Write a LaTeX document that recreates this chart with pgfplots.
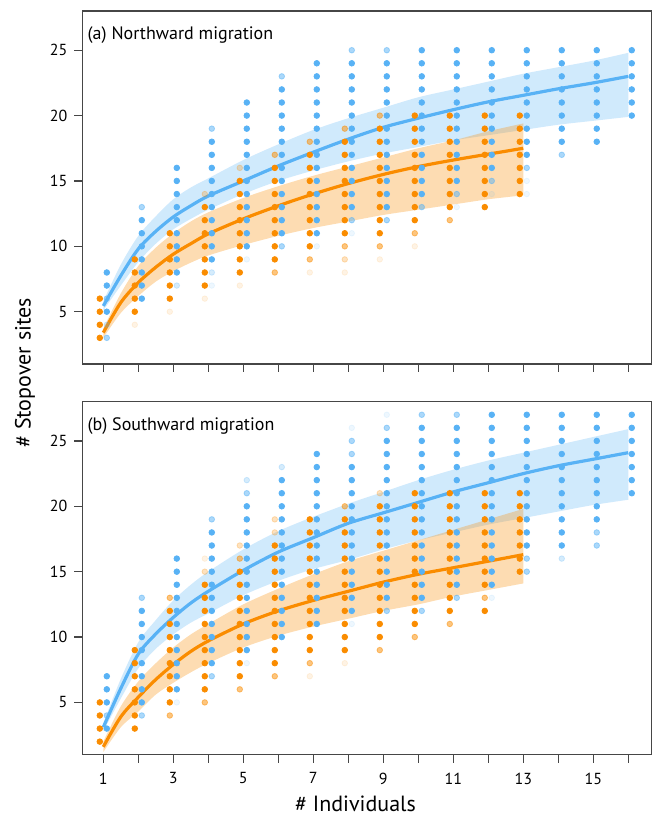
\documentclass[border=0pt]{standalone}
\usepackage{fontspec}
\setmainfont{PT Sans}
\usepackage{pgfplots}
\pgfplotsset{compat=1.18}
\usepgfplotslibrary{fillbetween}
\definecolor{cblue}{RGB}{88,178,245}
\definecolor{corange}{RGB}{250,140,0}
\definecolor{frame}{RGB}{70,70,70}
\pgfplotsset{
  panel/.style={
    scale only axis, width=284.7pt, height=176.5pt,
    xmin=0.4, xmax=16.67, ymin=1, ymax=28,
    xtick={1,...,16}, ytick={5,10,15,20,25},
    tick align=outside, tick pos=left, major tick length=4pt,
    axis line style={draw=frame, line width=0.7pt},
    every tick/.style={draw=frame, line width=0.6pt},
    tick label style={font=\fontsize{8}{9}\selectfont},
    xticklabel style={yshift=-1.5pt},
    /pgf/number format/assume math mode=true,
  },
  dotsb/.style={only marks, scatter, point meta=explicit symbolic, mark size=1.4pt,
    scatter/classes={
      a={mark=*, cblue},
      b={mark=*, cblue, opacity=0.5},
      c={mark=*, cblue, opacity=0.25},
      d={mark=*, cblue, opacity=0.1}}},
  dotso/.style={only marks, scatter, point meta=explicit symbolic, mark size=1.4pt,
    scatter/classes={
      a={mark=*, corange},
      b={mark=*, corange, opacity=0.5},
      c={mark=*, corange, opacity=0.25},
      d={mark=*, corange, opacity=0.1}}},
}
\begin{document}
\begin{tikzpicture}
% ---------------- Panel (a)
\begin{axis}[panel, at={(0pt,0pt)}, anchor=north west, xticklabels={}]
\addplot[dotso] table[x expr=\thisrow{x}-0.1, y=y, meta=c, row sep=\\] {
x y c\\
1 6 a\\1 5 a\\1 4 a\\1 3 a\\
2 9 a\\2 8 a\\2 7 a\\2 6 a\\2 5 a\\2 4 d\\
3 11 a\\3 10 a\\3 9 a\\3 8 a\\3 7 a\\3 6 a\\3 5 d\\
4 14 c\\4 13 a\\4 12 a\\4 11 a\\4 10 a\\4 9 a\\4 8 a\\4 7 a\\4 6 d\\
5 16 c\\5 15 a\\5 14 a\\5 13 a\\5 12 a\\5 11 a\\5 10 a\\5 9 a\\5 8 a\\5 7 d\\
6 17 b\\6 16 a\\6 15 a\\6 14 a\\6 13 a\\6 12 a\\6 11 a\\6 10 a\\6 9 a\\6 8 b\\
7 18 b\\7 17 a\\7 16 a\\7 15 a\\7 14 a\\7 13 a\\7 12 a\\7 11 a\\7 10 a\\7 9 b\\7 8 d\\
8 19 b\\8 18 a\\8 17 a\\8 16 a\\8 15 a\\8 14 a\\8 13 a\\8 12 a\\8 11 a\\8 10 b\\8 9 c\\8 8 d\\
9 20 b\\9 19 a\\9 18 a\\9 17 a\\9 16 a\\9 15 a\\9 14 a\\9 13 a\\9 12 a\\9 11 a\\9 10 b\\9 9 d\\
10 20 a\\10 19 a\\10 18 a\\10 17 a\\10 16 a\\10 15 a\\10 14 a\\10 13 a\\10 12 a\\10 11 b\\10 10 d\\
11 20 a\\11 19 a\\11 18 a\\11 17 a\\11 16 a\\11 15 a\\11 14 a\\11 13 a\\11 12 b\\
12 20 a\\12 19 a\\12 18 a\\12 17 a\\12 16 a\\12 15 a\\12 14 a\\12 13 a\\
13 20 a\\13 19 a\\13 18 a\\13 17 a\\13 16 a\\13 15 a\\13 14 a\\
};
\addplot[dotsb] table[x expr=\thisrow{x}+0.1, y=y, meta=c, row sep=\\] {
x y c\\
1 8 a\\1 7 a\\1 6 b\\1 5 a\\1 4 c\\1 3 b\\
2 13 b\\2 12 a\\2 11 a\\2 10 a\\2 9 a\\2 8 a\\2 7 a\\2 6 a\\
3 16 a\\3 15 a\\3 14 a\\3 13 a\\3 12 a\\3 11 a\\3 10 a\\3 9 a\\3 8 a\\3 7 c\\
4 19 b\\4 18 a\\4 17 a\\4 16 a\\4 15 a\\4 14 a\\4 13 a\\4 12 a\\4 11 a\\4 10 a\\4 9 a\\4 8 c\\4 7 d\\
5 21 a\\5 20 a\\5 19 a\\5 18 a\\5 17 a\\5 16 a\\5 15 a\\5 14 a\\5 13 a\\5 12 a\\5 11 a\\5 10 a\\5 9 d\\
6 23 b\\6 22 a\\6 21 a\\6 20 a\\6 19 a\\6 18 a\\6 17 a\\6 16 a\\6 15 a\\6 14 a\\6 13 a\\6 12 a\\6 11 a\\6 10 b\\
7 24 a\\7 23 a\\7 22 a\\7 21 a\\7 20 a\\7 19 a\\7 18 a\\7 17 a\\7 16 a\\7 15 a\\7 14 a\\7 13 a\\7 12 a\\7 11 a\\7 10 d\\
8 25 b\\8 24 a\\8 23 a\\8 22 a\\8 21 a\\8 20 a\\8 19 a\\8 18 a\\8 17 a\\8 16 a\\8 15 a\\8 14 a\\8 13 a\\8 12 b\\8 11 d\\
9 25 b\\9 24 a\\9 23 a\\9 22 a\\9 21 a\\9 20 a\\9 19 a\\9 18 a\\9 17 a\\9 16 a\\9 15 a\\9 14 a\\9 13 a\\9 12 b\\
10 25 a\\10 24 a\\10 23 a\\10 22 a\\10 21 a\\10 20 a\\10 19 a\\10 18 a\\10 17 a\\10 16 a\\10 15 a\\10 14 a\\10 13 b\\
11 25 a\\11 24 a\\11 23 a\\11 22 a\\11 21 a\\11 20 a\\11 19 a\\11 18 a\\11 17 a\\11 16 a\\11 15 a\\11 14 b\\11 13 d\\
12 25 a\\12 24 a\\12 23 a\\12 22 a\\12 21 a\\12 20 a\\12 19 a\\12 18 a\\12 17 a\\12 16 a\\12 15 b\\12 14 d\\
13 25 a\\13 24 a\\13 23 a\\13 22 a\\13 21 a\\13 20 a\\13 19 a\\13 18 a\\13 17 a\\13 16 b\\13 15 d\\13 14 d\\
14 25 a\\14 24 a\\14 23 a\\14 22 a\\14 21 a\\14 20 a\\14 19 a\\14 18 a\\14 17 b\\
15 25 a\\15 24 a\\15 23 a\\15 22 a\\15 21 a\\15 20 a\\15 19 a\\15 18 a\\
16 25 a\\16 24 a\\16 23 a\\16 22 a\\16 21 a\\16 20 a\\
};
% bands
\addplot[name path=aBU, draw=none, smooth] coordinates {(1,5.8)(1.5,8.6)(2,10.8)(2.5,12.3)(3,13.6)(3.5,14.5)(4,15.2)(5,16.6)(6,17.8)(7,18.9)(8,19.8)(9,20.6)(10,21.4)(11,22.0)(12,22.6)(13,23.2)(14,23.7)(15,24.2)(16,24.8)};
\addplot[name path=aBL, draw=none, smooth] coordinates {(1,5.1)(1.5,7.0)(2,8.8)(2.5,10.2)(3,11.3)(3.5,12.1)(4,12.8)(5,14.0)(6,15.0)(7,15.8)(8,16.5)(9,17.1)(10,17.6)(11,18.1)(12,18.5)(13,18.9)(14,19.3)(15,19.6)(16,19.9)};
\addplot[fill=cblue, fill opacity=0.28, draw=none] fill between[of=aBU and aBL];
\addplot[name path=aOU, draw=none, smooth] coordinates {(1,3.7)(1.5,6.4)(2,8.5)(2.5,9.9)(3,11.0)(3.5,11.9)(4,12.6)(5,13.7)(6,14.6)(7,15.4)(8,16.1)(9,16.8)(10,17.5)(11,18.1)(12,18.8)(13,19.4)};
\addplot[name path=aOL, draw=none, smooth] coordinates {(1,3.0)(1.5,4.9)(2,6.2)(2.5,7.3)(3,8.1)(3.5,8.75)(4,9.3)(5,10.1)(6,10.8)(7,11.4)(8,11.9)(9,12.4)(10,12.8)(11,13.2)(12,13.6)(13,13.9)};
\addplot[fill=corange, fill opacity=0.3, draw=none] fill between[of=aOU and aOL];
% curves
\addplot[cblue, line width=1.6pt, smooth] coordinates {(1,5.44)(1.5,7.75)(2,9.8)(2.5,11.15)(3,12.25)(3.5,13.1)(4,13.85)(5,15.0)(6,16.15)(7,17.2)(8,18.2)(9,19.1)(10,19.8)(11,20.45)(12,21.05)(13,21.55)(14,22.05)(15,22.5)(16,23.0)};
\addplot[corange, line width=1.6pt, smooth] coordinates {(1,3.4)(1.5,5.7)(2,7.23)(2.5,8.4)(3,9.4)(3.5,10.2)(4,10.95)(5,12.1)(6,13.1)(7,14.0)(8,14.8)(9,15.5)(10,16.1)(11,16.6)(12,17.05)(13,17.5)};
\end{axis}
\node[anchor=base west, font=\fontsize{9}{10}\selectfont, inner sep=0pt] at (2.5pt,-14.5pt) {(a) Northward migration};
% ---------------- Panel (b)
\begin{axis}[panel, at={(0pt,-195.35pt)}, anchor=north west, xticklabels={1,,3,,5,,7,,9,,11,,13,,15,}]
\addplot[dotso] table[x expr=\thisrow{x}-0.1, y=y, meta=c, row sep=\\] {
x y c\\
1 5 a\\1 4 a\\1 3 a\\1 2 a\\
2 9 a\\2 8 a\\2 7 a\\2 6 a\\2 5 a\\2 4 a\\2 3 a\\
3 13 b\\3 12 a\\3 11 a\\3 10 a\\3 9 a\\3 8 a\\3 7 a\\3 6 a\\3 5 a\\3 4 b\\
4 16 d\\4 15 c\\4 14 a\\4 13 a\\4 12 a\\4 11 a\\4 10 a\\4 9 a\\4 8 a\\4 7 a\\4 6 a\\4 5 b\\
5 17 c\\5 16 b\\5 15 a\\5 14 a\\5 13 a\\5 12 a\\5 11 a\\5 10 a\\5 9 a\\5 8 a\\5 7 a\\5 6 b\\
6 19 c\\6 18 c\\6 17 a\\6 16 a\\6 15 a\\6 14 a\\6 13 a\\6 12 a\\6 11 a\\6 10 a\\6 9 a\\6 8 a\\6 7 b\\
7 19 a\\7 18 a\\7 17 a\\7 16 a\\7 15 a\\7 14 a\\7 13 a\\7 12 a\\7 11 a\\7 10 a\\7 9 a\\7 8 b\\7 7 d\\
8 20 b\\8 19 a\\8 18 a\\8 17 a\\8 16 a\\8 15 a\\8 14 a\\8 13 a\\8 12 a\\8 11 a\\8 10 a\\8 9 a\\8 8 d\\
9 21 c\\9 20 a\\9 19 a\\9 18 a\\9 17 a\\9 16 a\\9 15 a\\9 14 a\\9 13 a\\9 12 a\\9 11 a\\9 10 a\\9 9 b\\
10 21 a\\10 20 a\\10 19 a\\10 18 a\\10 17 a\\10 16 a\\10 15 a\\10 14 a\\10 13 a\\10 12 a\\10 11 a\\10 10 b\\
11 21 a\\11 20 a\\11 19 a\\11 18 a\\11 17 a\\11 16 a\\11 15 a\\11 14 a\\11 13 a\\11 12 a\\11 11 b\\
12 21 a\\12 20 a\\12 19 a\\12 18 a\\12 17 a\\12 16 a\\12 15 a\\12 14 a\\12 13 b\\12 12 a\\
13 21 a\\13 20 a\\13 19 a\\13 18 a\\13 17 a\\13 16 a\\13 15 a\\
};
\addplot[dotsb] table[x expr=\thisrow{x}+0.1, y=y, meta=c, row sep=\\] {
x y c\\
1 7 a\\1 6 a\\1 5 a\\1 4 b\\1 3 a\\
2 13 b\\2 12 a\\2 11 a\\2 10 a\\2 9 a\\2 8 a\\2 7 a\\2 6 a\\2 5 a\\2 4 b\\
3 16 a\\3 15 a\\3 14 a\\3 13 a\\3 12 a\\3 11 a\\3 10 a\\3 9 a\\3 8 a\\3 7 a\\3 6 a\\3 5 d\\
4 19 b\\4 18 a\\4 17 a\\4 16 a\\4 15 a\\4 14 a\\4 13 a\\4 12 a\\4 11 a\\4 10 a\\4 9 a\\4 8 a\\4 7 b\\
5 22 c\\5 21 b\\5 20 a\\5 19 a\\5 18 a\\5 17 a\\5 16 a\\5 15 a\\5 14 a\\5 13 a\\5 12 a\\5 11 a\\5 10 a\\5 9 a\\5 8 d\\
6 23 c\\6 22 a\\6 21 a\\6 20 a\\6 19 a\\6 18 a\\6 17 a\\6 16 a\\6 15 a\\6 14 a\\6 13 a\\6 12 a\\6 11 a\\6 10 a\\
7 24 a\\7 23 a\\7 22 a\\7 21 a\\7 20 a\\7 19 a\\7 18 a\\7 17 a\\7 16 a\\7 15 a\\7 14 a\\7 13 a\\7 12 a\\7 11 a\\
8 26 d\\8 25 b\\8 24 b\\8 23 a\\8 22 a\\8 21 a\\8 20 a\\8 19 a\\8 18 a\\8 17 a\\8 16 a\\8 15 a\\8 14 a\\8 13 a\\8 12 a\\8 11 d\\
9 27 d\\9 26 b\\9 25 a\\9 24 a\\9 23 a\\9 22 a\\9 21 a\\9 20 a\\9 19 a\\9 18 a\\9 17 a\\9 16 a\\9 15 a\\9 14 a\\9 13 a\\9 12 b\\
10 27 b\\10 26 a\\10 25 a\\10 24 a\\10 23 a\\10 22 a\\10 21 a\\10 20 a\\10 19 a\\10 18 a\\10 17 a\\10 16 a\\10 15 a\\10 14 a\\10 13 a\\10 12 b\\
11 27 b\\11 26 a\\11 25 a\\11 24 a\\11 23 a\\11 22 a\\11 21 a\\11 20 a\\11 19 a\\11 18 a\\11 17 a\\11 16 a\\11 15 a\\11 14 a\\11 13 b\\
12 27 a\\12 26 a\\12 25 a\\12 24 a\\12 23 a\\12 22 a\\12 21 a\\12 20 a\\12 19 a\\12 18 a\\12 17 a\\12 16 a\\12 15 a\\12 14 a\\12 13 d\\
13 27 a\\13 26 a\\13 25 a\\13 24 a\\13 23 a\\13 22 a\\13 21 a\\13 20 a\\13 19 a\\13 18 a\\13 17 a\\13 16 b\\13 15 b\\
14 27 a\\14 26 a\\14 25 a\\14 24 a\\14 23 a\\14 22 a\\14 21 a\\14 20 a\\14 19 a\\14 18 a\\14 17 a\\14 16 c\\
15 27 a\\15 26 a\\15 25 a\\15 24 a\\15 23 a\\15 22 a\\15 21 a\\15 20 a\\15 19 a\\15 18 b\\15 17 b\\
16 27 a\\16 26 a\\16 25 a\\16 24 a\\16 23 a\\16 22 a\\16 21 a\\
};
\addplot[name path=bBU, draw=none, smooth] coordinates {(1,3.4)(1.5,6.8)(2,9.6)(2.5,11.3)(3,12.8)(3.5,14.0)(4,15.0)(5,16.7)(6,18.1)(7,19.2)(8,20.2)(9,21.1)(10,22.0)(11,22.8)(12,23.5)(13,24.1)(14,24.7)(15,25.3)(16,25.9)};
\addplot[name path=bBL, draw=none, smooth] coordinates {(1,2.8)(1.5,5.3)(2,7.6)(2.5,9.1)(3,10.2)(3.5,11.1)(4,11.8)(5,13.2)(6,14.3)(7,15.2)(8,15.9)(9,16.7)(10,17.4)(11,18.0)(12,18.6)(13,19.1)(14,19.6)(15,20.1)(16,20.5)};
\addplot[fill=cblue, fill opacity=0.28, draw=none] fill between[of=bBU and bBL];
\addplot[name path=bOU, draw=none, smooth] coordinates {(1,2.0)(1.5,4.7)(2,6.6)(2.5,8.0)(3,9.2)(3.5,10.2)(4,11.0)(5,12.5)(6,13.7)(7,14.8)(8,15.8)(9,16.6)(10,17.4)(11,18.2)(12,19.0)(13,19.8)};
\addplot[name path=bOL, draw=none, smooth] coordinates {(1,1.2)(1.5,3.1)(2,4.3)(2.5,5.6)(3,6.5)(3.5,7.3)(4,8.0)(5,9.2)(6,10.1)(7,10.8)(8,11.4)(9,12.0)(10,12.5)(11,13.1)(12,13.6)(13,14.1)};
\addplot[fill=corange, fill opacity=0.3, draw=none] fill between[of=bOU and bOL];
\addplot[cblue, line width=1.6pt, smooth] coordinates {(1,3.1)(1.5,6.07)(2,8.7)(2.5,10.24)(3,11.5)(3.5,12.6)(4,13.5)(5,15.1)(6,16.5)(7,17.6)(8,18.7)(9,19.5)(10,20.3)(11,21.1)(12,21.8)(13,22.5)(14,23.1)(15,23.6)(16,24.1)};
\addplot[corange, line width=1.6pt, smooth] coordinates {(1,1.6)(1.5,3.9)(2,5.4)(2.5,6.75)(3,7.9)(3.5,8.9)(4,9.7)(5,11.0)(6,12.0)(7,12.8)(8,13.5)(9,14.2)(10,14.8)(11,15.3)(12,15.8)(13,16.3)};
\end{axis}
\node[anchor=base west, font=\fontsize{9}{10}\selectfont, inner sep=0pt] at (2.5pt,-209.85pt) {(b) Southward migration};
\node[rotate=90, font=\fontsize{11}{12}\selectfont] at (-28.65pt,-181pt) {\# Stopover sites};
\node[anchor=base, font=\fontsize{11}{12}\selectfont, inner sep=0pt] at (136.6pt,-400pt) {\# Individuals};
\pgfresetboundingbox
\path[use as bounding box] (-41.15pt,5.5pt) rectangle (286.85pt,-403pt);
\end{tikzpicture}
\end{document}
